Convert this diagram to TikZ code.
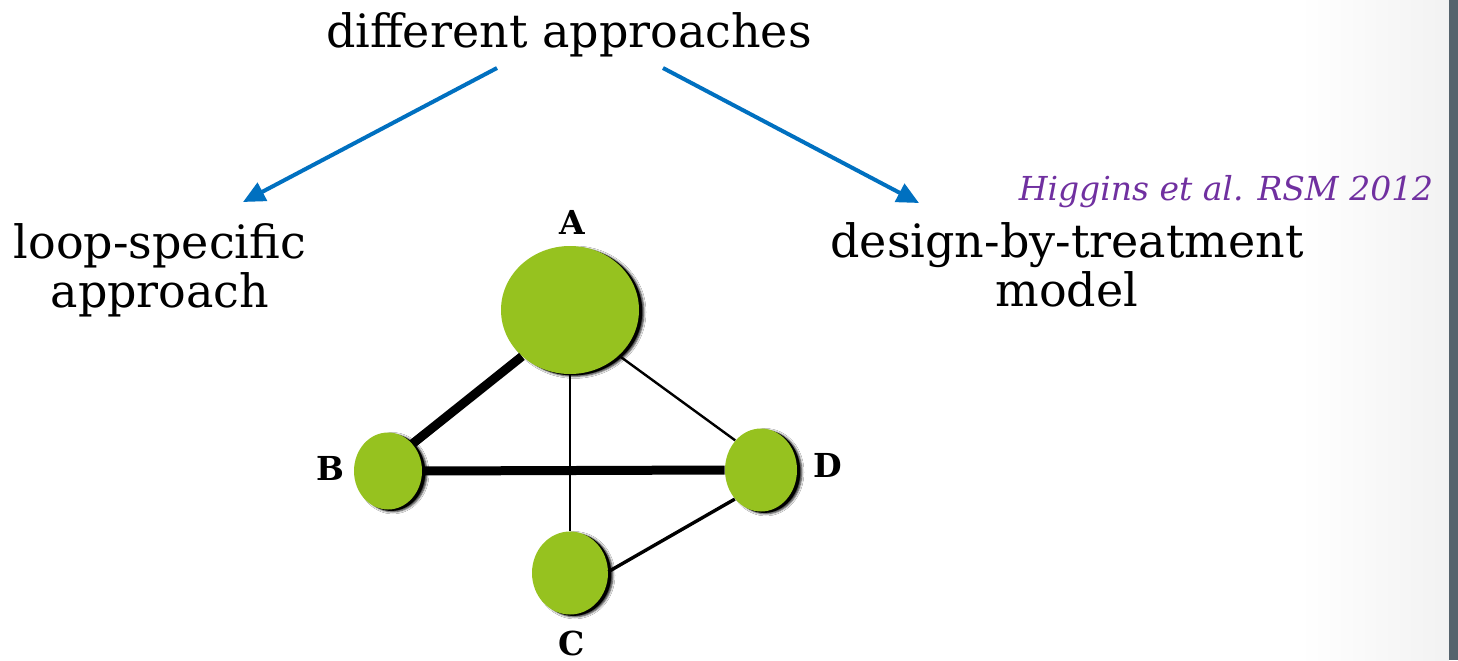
\documentclass[tikz,border=0pt]{standalone}
\usepackage{fontspec}
\setmainfont{DejaVu Serif}
\usetikzlibrary{shapes.geometric,arrows.meta,shadows,shadows.blur}

\definecolor{nodegreen}{HTML}{96C21F}
\definecolor{arrowblue}{HTML}{0070C0}
\definecolor{citepurple}{HTML}{7030A0}
\definecolor{sidebar}{HTML}{56636D}

\tikzset{
  bigtext/.style={inner sep=0pt, font=\fontsize{23}{24.5}\selectfont, align=center},
  citetext/.style={inner sep=0pt, text=citepurple, font=\fontsize{16.5}{19}\selectfont\itshape},
  letter/.style={inner sep=0pt, font=\fontsize{16.5}{19}\selectfont\bfseries},
  treat/.style={ellipse, fill=nodegreen, inner sep=0pt,
    blur shadow={shadow xshift=2.4pt, shadow yshift=-1.1pt,
                 shadow blur radius=1.1pt, shadow opacity=90},
    drop shadow={shadow xshift=1.6pt, shadow yshift=-0.7pt,
                 fill=black, opacity=1}},
  branch/.style={draw=arrowblue, line width=2pt,
    -{Triangle[length=11pt, width=10pt]}},
  heavy/.style={draw=black, line width=4.5pt},
  light/.style={draw=black, line width=1.2pt},
  medium/.style={draw=black, line width=1.7pt}
}

\begin{document}
\begin{tikzpicture}[x=0.5pt, y=-0.5pt]
  \useasboundingbox (0,0) rectangle (1458,660);
  % page background with a soft grey fade towards the side bar
  \fill[white] (0,0) rectangle (1458,660);
  \shade[left color=white, right color=black!5] (1300,0) rectangle (1449,660);
  \fill[sidebar] (1449,0) rectangle (1458,660);

  % headings
  \node[bigtext, anchor=base] (title) at (569,47) {different approaches};
  \node[bigtext] (loop) at (160,270) {loop-specific\\approach};
  \node[bigtext] (dbt) at (1067,265) {design-by-treatment\\model};
  \node[citetext, anchor=base] (cite) at (1226,200) {Higgins et al. RSM 2012};

  % branching arrows
  \coordinate (l0) at (497,68);
  \coordinate (l1) at (243,202);
  \coordinate (r0) at (663,68);
  \coordinate (r1) at (919,203);
  \draw[branch] (l0) -- (l1);
  \draw[branch] (r0) -- (r1);

  % network of treatments
  \node[treat, minimum width=69pt, minimum height=64pt] (A) at (570,310) {};
  \node[treat, minimum width=34pt, minimum height=38.5pt] (B) at (388,471) {};
  \node[treat, minimum width=36pt, minimum height=41.5pt] (D) at (761,470) {};
  \node[treat, minimum width=38pt, minimum height=41.5pt] (C) at (570,573) {};

  \node[letter] (lA) at (572,222) {A};
  \node[letter] (lB) at (330,468) {B};
  \node[letter] (lD) at (828,465) {D};
  \node[letter] (lC) at (572,643) {C};

  % comparisons
  \draw[heavy] (A.224) -- (B.48);
  \draw[heavy] (B.east) -- (D.west);
  \draw[light] (A.south) -- (C.north);
  \draw[light] (A.-43) -- (D.131);
  \draw[medium] (C.2) -- (D.228);
\end{tikzpicture}
\end{document}
